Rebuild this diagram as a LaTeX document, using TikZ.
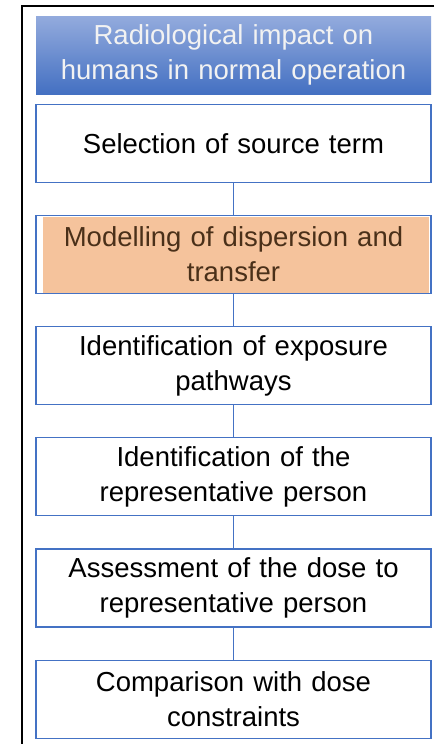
\documentclass[tikz,border=0pt]{standalone}
\usepackage{fontspec}
\setmainfont{Liberation Sans}
\usetikzlibrary{positioning,backgrounds}

\definecolor{boxblue}{HTML}{4472C4}
\definecolor{headtop}{HTML}{93ABDD}
\definecolor{headbot}{HTML}{4470C2}
\definecolor{hlfill}{HTML}{F5C39C}
\definecolor{hltext}{HTML}{4A3019}

\tikzset{
  stagebox/.style={draw=boxblue, line width=1.2pt, fill=white,
    minimum width=395pt, minimum height=78pt, text width=385pt,
    align=center, inner sep=0pt, font=\fontsize{27.5}{35}\selectfont},
  headbox/.style={stagebox, draw=none, top color=headtop, bottom color=headbot,
    text=white!95!black},
  link/.style={boxblue, line width=1.2pt}
}

\begin{document}
\begin{tikzpicture}
\useasboundingbox (0,0) rectangle (434pt,-744pt);
% outer frame
\draw[line width=2pt] (434pt,-6pt) -- (22pt,-6pt) -- (22pt,-744pt);

\node[headbox] (head) at (233.5pt,-55pt) {Radiological impact on\\humans in normal operation};
\node[stagebox, below=9pt of head] (source) {Selection of source term};
\node[stagebox, below=32pt of source, fill=none, text=hltext] (model) {Modelling of dispersion and\\transfer};
\node[stagebox, below=32pt of model] (paths) {Identification of exposure\\pathways};
\node[stagebox, below=32pt of paths] (person) {Identification of the\\representative person};
\node[stagebox, below=32pt of person] (dose) {Assessment of the dose to\\representative person};
\node[stagebox, below=32pt of dose] (limits) {Comparison with dose\\constraints};

% highlighted step
\begin{scope}[on background layer]
  \fill[white] (model.north west) rectangle (model.south east);
  \fill[hlfill] ([xshift=8pt,yshift=-2pt]model.north west) rectangle ([xshift=-3pt]model.south east);
\end{scope}

\foreach \a/\b in {source/model, model/paths, paths/person, person/dose, dose/limits}
  \draw[link] (\a) -- (\b);
\end{tikzpicture}
\end{document}
